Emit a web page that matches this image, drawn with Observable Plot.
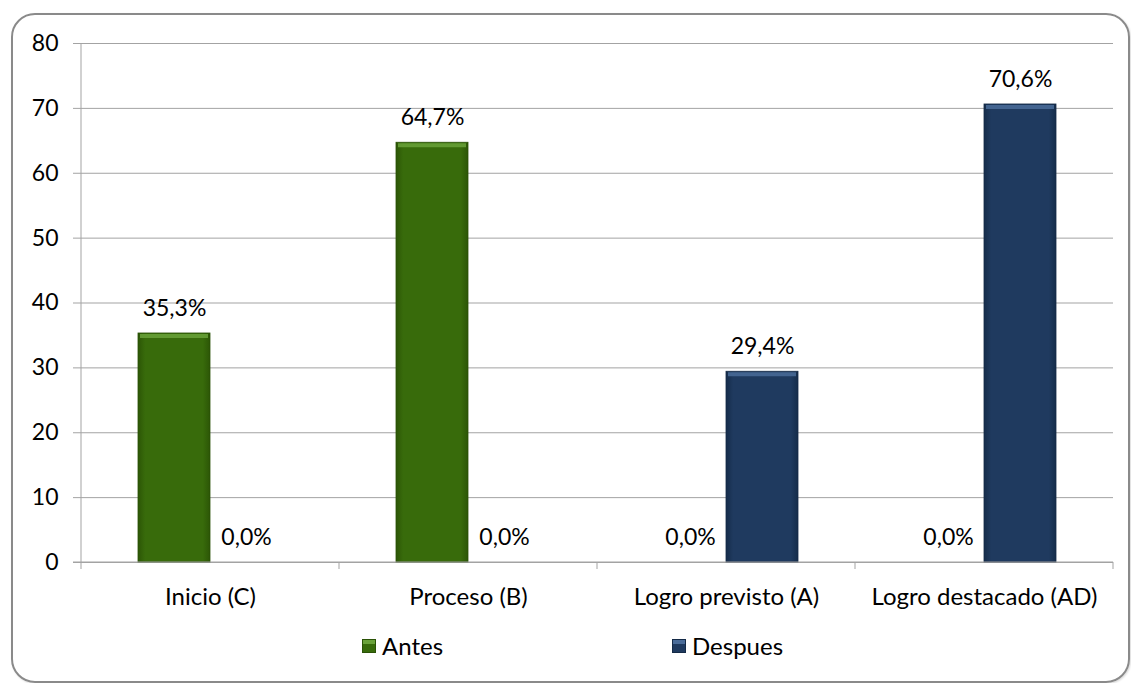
<!DOCTYPE html>
<html>
<head>
<meta charset="utf-8">
<script src="https://cdn.jsdelivr.net/npm/d3@7"></script>
<script src="https://cdn.jsdelivr.net/npm/@observablehq/plot@0.6"></script>
<style>
  html, body { margin: 0; padding: 0; background: #fff; }
  #wrap { position: relative; width: 1131px; height: 683px; overflow: hidden; font-family: Lato, "Open Sans", sans-serif; }
  #frame { position: absolute; left: 11px; top: 13px; width: 1115px; height: 666px; border: 2px solid #8a8a8a; border-radius: 24px; box-shadow: 1px 1px 2px rgba(0,0,0,0.15); }
  #chart { position: absolute; left: 0; top: 0; }
  #legend { position: absolute; top: 631px; left: 0; width: 1131px; height: 30px; font-size: 24px; color: #000; }
  .item { position: absolute; display: flex; align-items: center; gap: 6px; }
  .sw { width: 14px; height: 14px; box-sizing: border-box; }
</style>
</head>
<body>
<div id="wrap">
  <div id="frame"></div>
  <div id="chart"></div>
  <div id="legend"></div>
</div>
<script>
// ---- data ----
const categories = ["Inicio (C)", "Proceso (B)", "Logro previsto (A)", "Logro destacado (AD)"];
const seriesNames = ["Antes", "Despues"];
const antes = [35.3, 64.7, 0, 0];
const despues = [0, 0, 29.4, 70.6];
const yTicks = [0, 10, 20, 30, 40, 50, 60, 70, 80];
const seriesColors = ["#386b0b", "#1f3a5f"];
const bevelColors = ["#6aa23a", "#4a6c99"];

const rows = [];
categories.forEach((c, i) => {
  rows.push({category: c, series: "Antes", value: antes[i]});
  rows.push({category: c, series: "Despues", value: despues[i]});
});
const fmt = v => v.toFixed(1).replace(".", ",") + "%";
const nonZero = rows.filter(d => d.value > 0);

const plot = Plot.plot({
  width: 1131,
  height: 620,
  marginLeft: 79,
  marginRight: 17,
  marginTop: 43,
  marginBottom: 58,
  style: {fontFamily: "Lato, 'Open Sans', sans-serif", fontSize: "24px", color: "#000", background: "transparent", overflow: "visible"},
  fx: {domain: categories, paddingInner: 0, paddingOuter: 0, label: null},
  x: {domain: seriesNames, paddingInner: 0, paddingOuter: 0.774, axis: null},
  y: {domain: [0, 80], label: null},
  color: {domain: seriesNames, range: seriesColors},
  marks: [
    Plot.gridY(yTicks, {stroke: "#a3a3a3", strokeOpacity: 1}),
    Plot.axisY(yTicks, {tickSize: 8, tickPadding: 15, stroke: "#a3a3a3", fill: "#000", label: null, tickFormat: d => d, fontSize: 23}),
    Plot.axisFx({anchor: "bottom", tickSize: 0, tickPadding: 25, label: null, fill: "#000", fontSize: 24}),
    Plot.barY(rows, {fx: "category", x: "series", y: "value",
      fill: d => d.series === "Antes" ? "url(#gAntes)" : "url(#gDespues)",
      stroke: d => d.series === "Antes" ? "#2a5206" : "#142a47", strokeWidth: 0.8}),
    Plot.tickY(nonZero, {fx: "category", x: "series", y: "value", dy: 2.5, stroke: d => d.series === "Antes" ? bevelColors[0] : bevelColors[1], strokeWidth: 4, strokeOpacity: 0.85, inset: 2}),
    Plot.text(rows, {fx: "category", x: "series", y: "value", text: d => fmt(d.value), dy: -25, fontSize: 23, fill: "#000"})
  ]
});

// gradients for the bar bodies
const svg = d3.select(plot);
const defs = svg.insert("defs", ":first-child");
function grad(id, edge, mid) {
  const g = defs.append("linearGradient").attr("id", id).attr("x1", 0).attr("x2", 1).attr("y1", 0).attr("y2", 0);
  g.append("stop").attr("offset", "0%").attr("stop-color", edge);
  g.append("stop").attr("offset", "10%").attr("stop-color", mid);
  g.append("stop").attr("offset", "90%").attr("stop-color", mid);
  g.append("stop").attr("offset", "100%").attr("stop-color", edge);
}
grad("gAntes", "#2c5606", seriesColors[0]);
grad("gDespues", "#152c4a", seriesColors[1]);

// axis line, baseline and category boundary ticks from the plot's scales
const fx = plot.scale("fx");
const y = plot.scale("y");
const y0 = y.apply(0), yTop = y.apply(80);
const bw = fx.bandwidth;
const left = fx.apply(categories[0]);
const right = fx.apply(categories[categories.length - 1]) + bw;
const g = svg.append("g").attr("stroke", "#a3a3a3").attr("stroke-width", 1);
g.append("line").attr("x1", left).attr("x2", left).attr("y1", yTop).attr("y2", y0 + 7);
g.append("line").attr("x1", left - 8).attr("x2", right).attr("y1", y0).attr("y2", y0);
categories.forEach(c => {
  const xe = fx.apply(c) + bw;
  g.append("line").attr("x1", xe).attr("x2", xe).attr("y1", y0).attr("y2", y0 + 7);
});

document.getElementById("chart").appendChild(plot);

// legend
const legend = document.getElementById("legend");
const legendX = [362, 672];
seriesNames.forEach((s, i) => {
  const item = document.createElement("div");
  item.className = "item";
  item.style.left = legendX[i] + "px";
  item.innerHTML = `<span class="sw" style="background:linear-gradient(180deg, ${bevelColors[i]} 0 30%, ${seriesColors[i]} 30%);border:1px solid ${i ? "#142a47" : "#2a5206"}"></span><span>${s}</span>`;
  legend.appendChild(item);
});
</script>
</body>
</html>
